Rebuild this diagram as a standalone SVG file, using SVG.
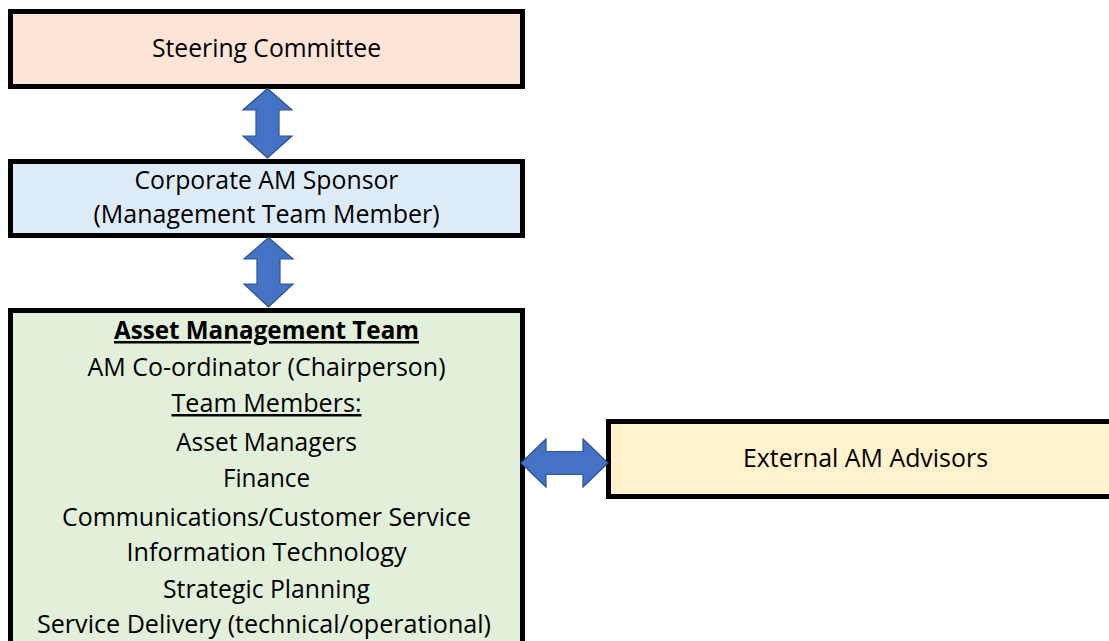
<svg xmlns="http://www.w3.org/2000/svg" width="1109" height="641" viewBox="0 0 1109 641">
<style>
.box{stroke:#000;stroke-width:5}
.t{font-family:"Open Sans","Noto Sans","Liberation Sans",sans-serif;font-size:25px;fill:#000;text-anchor:middle}
.b{font-weight:bold}
.u{text-decoration:underline}
.arr{fill:#4472C4;stroke:#2F528F;stroke-width:1.2}
</style>
<rect width="1109" height="641" fill="#fff"/>
<g id="steering">
<rect class="box" x="10.5" y="11.5" width="512" height="75" fill="#FCE4D6"/>
<text class="t" x="266.5" y="57" textLength="229" lengthAdjust="spacingAndGlyphs">Steering Committee</text>
</g>
<g id="sponsor">
<rect class="box" x="10.5" y="161.5" width="512" height="74" fill="#DDEBF7"/>
<text class="t" x="266.5" y="189" textLength="264" lengthAdjust="spacingAndGlyphs">Corporate AM Sponsor</text>
<text class="t" x="266.5" y="223" textLength="346" lengthAdjust="spacingAndGlyphs">(Management Team Member)</text>
</g>
<g id="amteam">
<rect class="box" x="10.5" y="310.5" width="512" height="345" fill="#E2EFDA"/>
<text class="t b u" x="266.5" y="339" textLength="305" lengthAdjust="spacingAndGlyphs">Asset Management Team</text>
<text class="t" x="266.5" y="376" textLength="358" lengthAdjust="spacingAndGlyphs">AM Co-ordinator (Chairperson)</text>
<text class="t u" x="266.5" y="412" textLength="190" lengthAdjust="spacingAndGlyphs">Team Members:</text>
<text class="t" x="266.5" y="451" textLength="181" lengthAdjust="spacingAndGlyphs">Asset Managers</text>
<text class="t" x="266.5" y="487" textLength="87" lengthAdjust="spacingAndGlyphs">Finance</text>
<text class="t" x="266.5" y="526" textLength="409" lengthAdjust="spacingAndGlyphs">Communications/Customer Service</text>
<text class="t" x="266.5" y="561" textLength="280" lengthAdjust="spacingAndGlyphs">Information Technology</text>
<text class="t" x="266.5" y="598" textLength="207" lengthAdjust="spacingAndGlyphs">Strategic Planning</text>
<text class="t" x="264" y="633" textLength="454" lengthAdjust="spacingAndGlyphs">Service Delivery (technical/operational)</text>
</g>
<g id="advisors">
<rect class="box" x="608.5" y="421.5" width="520" height="75" fill="#FFF2CC"/>
<text class="t" x="865.5" y="467" textLength="245" lengthAdjust="spacingAndGlyphs">External AM Advisors</text>
</g>
<g id="connectors">
<path class="arr" d="M267.5,88.5 L292,110 L279,110 L279,136 L292,136 L267.5,158 L243,136 L256,136 L256,110 L243,110 Z"/>
<path class="arr" d="M268.5,237.5 L293,259 L280,259 L280,284 L293,284 L268.5,307 L244,284 L257,284 L257,259 L244,259 Z"/>
<path class="arr" d="M521,463 L546,439 L546,451.5 L583,451.5 L583,439 L608,463 L583,487 L583,474.5 L546,474.5 L546,487 Z"/>
</g>
</svg>
